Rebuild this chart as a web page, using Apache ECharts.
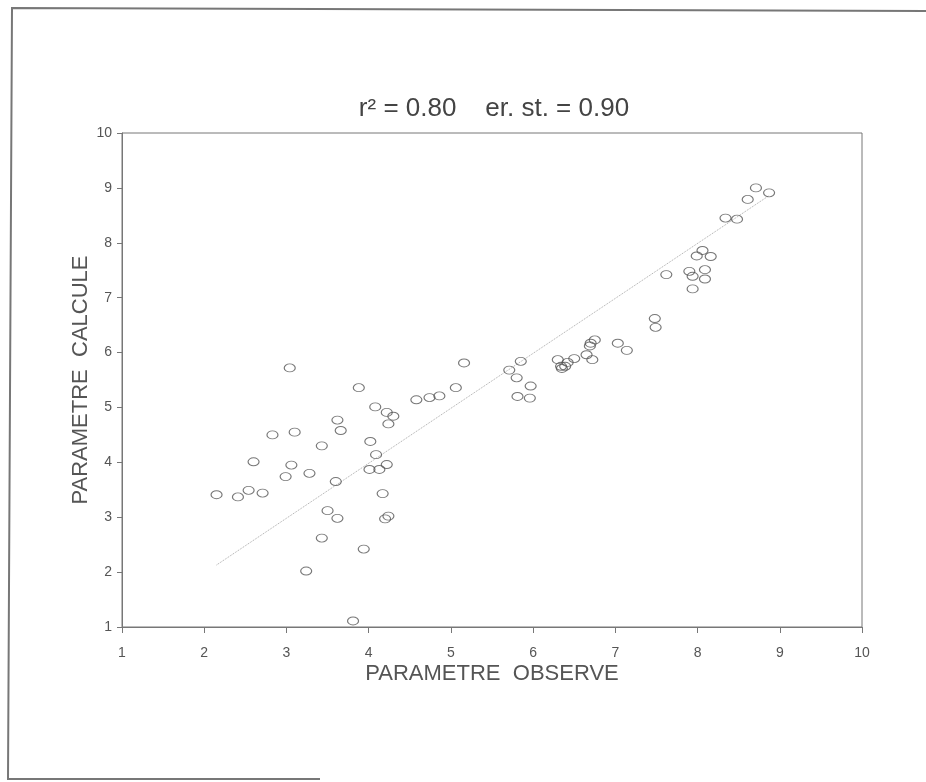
<!DOCTYPE html>
<html><head><meta charset="utf-8">
<script src="https://cdn.jsdelivr.net/npm/echarts@6/dist/echarts.min.js"></script>
<style>html,body{margin:0;padding:0;background:#fff}#c{width:926px;height:782px}</style>
</head><body><div id="c"></div>
<script>
const titleText = 'r\u00b2 = 0.80    er. st. = 0.90';
const xName = 'PARAMETRE  OBSERVE';
const yName = 'PARAMETRE  CALCULE';
const xTicks = [1,2,3,4,5,6,7,8,9,10];
const yTicks = [1,2,3,4,5,6,7,8,9,10];
const observed = [3.04,3.88,4.08,4.22,4.30,4.24,3.62,3.66,3.10,2.83,3.43,4.02,4.09,2.60,3.06,4.22,4.01,4.13,2.99,3.28,3.60,2.15,2.41,2.54,2.71,4.17,3.50,3.62,4.24,4.20,3.43,3.94,3.24,3.81,
 4.58,4.74,4.86,5.06,5.16,5.71,5.80,5.85,5.97,5.81,5.96,6.30,6.34,6.35,6.39,6.42,6.50,6.65,6.72,6.69,6.70,6.75,7.03,7.14,7.48,7.49,
 7.62,7.90,7.94,7.94,8.09,8.09,7.99,8.06,8.16,8.34,8.48,8.61,8.71,8.87];
const calculated = [5.72,5.36,5.01,4.91,4.84,4.70,4.77,4.58,4.55,4.50,4.30,4.38,4.14,4.01,3.95,3.96,3.87,3.87,3.74,3.80,3.65,3.41,3.37,3.49,3.44,3.43,3.12,2.98,3.02,2.97,2.62,2.42,2.02,1.11,
 5.14,5.18,5.21,5.36,5.81,5.68,5.54,5.84,5.39,5.20,5.17,5.87,5.75,5.71,5.75,5.82,5.89,5.96,5.87,6.12,6.17,6.23,6.17,6.04,6.62,6.46,
 7.42,7.48,7.39,7.16,7.51,7.34,7.76,7.86,7.75,8.45,8.43,8.79,9.00,8.91];
const fitX = [2.15, 8.87];
const fitY = [2.13, 8.86];

const pts = observed.map((x,i)=>[x, calculated[i]]);
const fit = fitX.map((x,i)=>[x, fitY[i]]);
const reg = "'Liberation Sans',Arial,sans-serif";
const chart = echarts.init(document.getElementById('c'), null, {renderer:'canvas'});
chart.setOption({
  animation:false,
  backgroundColor:'#fff',
  title:{text:titleText,left:489,top:91,textAlign:'center',
    textStyle:{fontFamily:reg,fontSize:26,fontWeight:'normal',color:'#444'}},
  grid:{left:122,right:64,top:133,bottom:155,show:true,borderColor:'#777',borderWidth:1,backgroundColor:'transparent'},
  xAxis:{type:'value',min:1,max:10,interval:1,
    name:xName,nameLocation:'middle',nameGap:36,nameMoveOverlap:false,
    nameTextStyle:{fontFamily:reg,fontSize:22,color:'#555',verticalAlign:'top'},
    axisLine:{lineStyle:{color:'#777'}},axisTick:{length:6,lineStyle:{color:'#777'}},
    splitLine:{show:false},
    axisLabel:{margin:19,fontFamily:reg,fontSize:14,color:'#555',
      formatter:v=>xTicks.includes(v)?String(v):''}},
  yAxis:{type:'value',min:1,max:10,interval:1,
    name:yName,nameLocation:'middle',nameGap:30,nameRotate:90,nameMoveOverlap:false,
    nameTextStyle:{fontFamily:reg,fontSize:22,color:'#555'},
    axisLine:{lineStyle:{color:'#777'}},axisTick:{length:5,lineStyle:{color:'#777'}},
    splitLine:{show:false},
    axisLabel:{margin:10,fontFamily:reg,fontSize:14,color:'#555',
      formatter:v=>yTicks.includes(v)?String(v):''}},
  graphic:[
    {type:'polyline',shape:{points:[[926,11],[12,8],[8,779],[320,779]]},
     style:{stroke:'#777',lineWidth:2,fill:null},silent:true}
  ],
  series:[
    {type:'line',data:fit,symbol:'none',silent:true,
     lineStyle:{color:'#aaa',width:1,type:'dotted'},z:1},
    {type:'scatter',data:pts,
     symbol:'path://M-1,0A1,1 0 1,0 1,0A1,1 0 1,0 -1,0Z',symbolSize:[11,8],
     itemStyle:{color:'rgba(0,0,0,0)',borderColor:'#555',borderWidth:1},z:2}
  ]
});
</script></body></html>
